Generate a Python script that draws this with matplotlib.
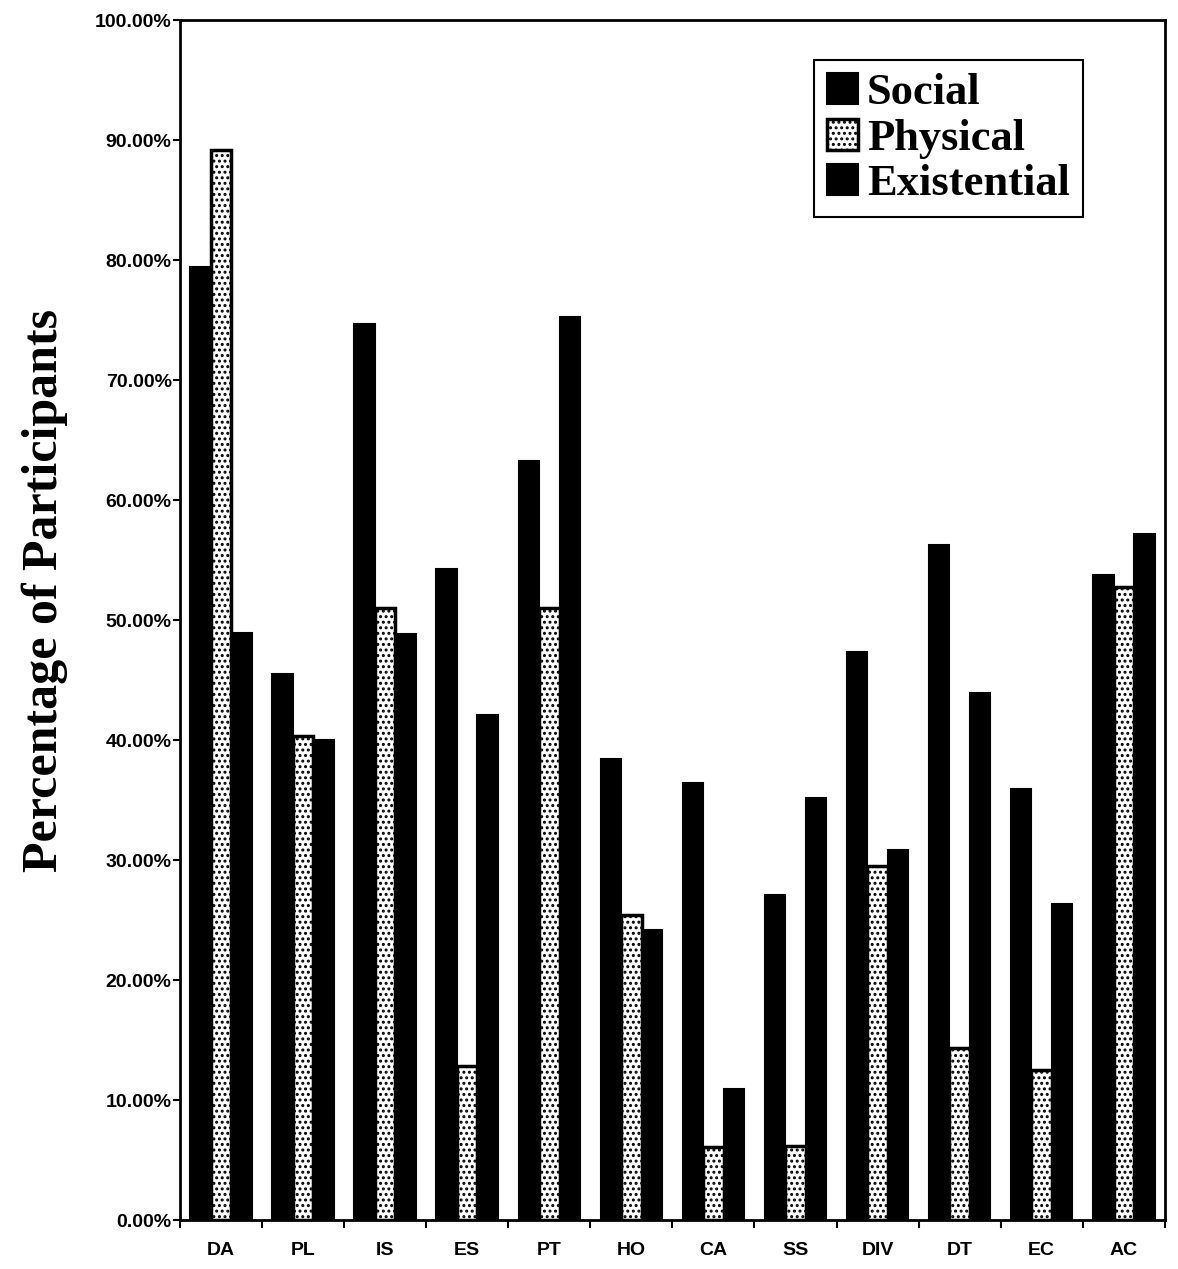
#!/usr/bin/env python3
"""Grouped bars: percentage of participants by category (Social / Physical / Existential)."""

import numpy as np
import matplotlib
matplotlib.use('Agg')
import matplotlib.pyplot as plt
from matplotlib.ticker import FixedLocator, PercentFormatter

categories = ['DA', 'PL', 'IS', 'ES', 'PT', 'HO', 'CA', 'SS', 'DIV', 'DT', 'EC', 'AC']
social = [79.4, 45.5, 74.7, 54.3, 63.3, 38.4, 36.4, 27.1, 47.3, 56.3, 35.9, 53.8]
physical = [89.2, 40.3, 51.0, 12.8, 51.0, 25.4, 6.1, 6.2, 29.5, 14.3, 12.5, 52.8]
existential = [48.9, 40.0, 48.8, 42.1, 75.3, 24.2, 10.9, 35.2, 30.8, 43.9, 26.3, 57.2]
y_ticks = np.arange(0, 101, 10)

plt.rcParams['hatch.linewidth'] = 1.4

fig = plt.figure(figsize=(11.78, 12.69), dpi=100)
ax = fig.add_axes([0.1528, 0.0386, 0.836, 0.9455])

x = np.arange(len(categories))
w = 0.25

ax.bar(x - w, social, w, color='black', edgecolor='black', linewidth=1.5, label='Social')
ax.bar(x, physical, w, color='white', edgecolor='black', hatch='...', linewidth=2.5,
       label='Physical')
ax.bar(x + w, existential, w, color='black', edgecolor='black', linewidth=1.5,
       label='Existential')

ax.set_xlim(-0.5, len(categories) - 0.5)
ax.set_ylim(0, 100)

ax.set_yticks(y_ticks)
ax.yaxis.set_major_formatter(PercentFormatter(decimals=2))
ax.set_xticks(x)
ax.set_xticklabels(categories)
ax.xaxis.set_minor_locator(FixedLocator(np.arange(-0.5, len(categories), 1.0)))

for lbl in ax.get_yticklabels() + ax.get_xticklabels():
    lbl.set_fontfamily('Liberation Sans')
    lbl.set_fontweight('bold')
    lbl.set_fontsize(14)

ax.tick_params(axis='y', direction='out', length=5, width=1.5, pad=1)
ax.tick_params(axis='x', which='major', length=0, pad=16)
ax.tick_params(axis='x', which='minor', direction='out', length=6, width=1.5)

for s in ax.spines.values():
    s.set_linewidth(2)

ax.set_ylabel('Percentage of Participants', family='Liberation Serif',
              weight='bold', fontsize=36)
ax.yaxis.set_label_coords(-0.114, 0.525)

leg = ax.legend(loc='upper right', bbox_to_anchor=(0.917, 0.967), borderaxespad=0,
                prop=dict(family='Liberation Serif', weight='bold', size=32),
                fancybox=False, framealpha=1, edgecolor='black',
                handlelength=0.7, handleheight=0.7, handletextpad=0.2,
                labelspacing=0.12, borderpad=0.3)
leg.get_frame().set_linewidth(1.5)

fig.savefig('out.png', dpi=100)
